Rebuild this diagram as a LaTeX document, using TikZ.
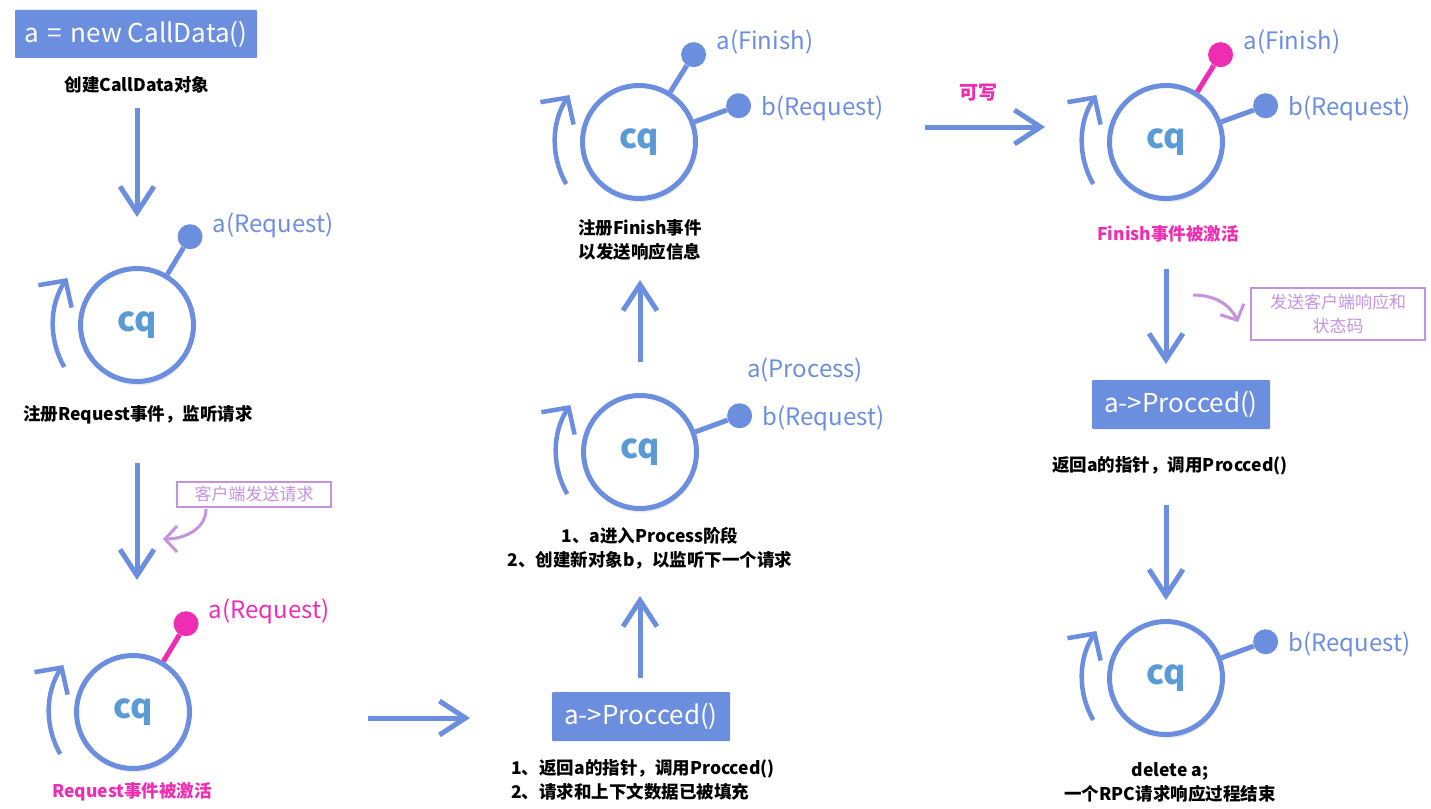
\documentclass[tikz,border=0pt]{standalone}
\usepackage{fontspec}
\setmainfont{Noto Sans CJK SC}
\usepackage{tikz}
\usetikzlibrary{arrows.meta,positioning,shadows}

\definecolor{cqblue}{HTML}{6C8EDF}
\definecolor{cqink}{HTML}{5B9BD5}
\definecolor{hot}{HTML}{EE2DB2}
\definecolor{lilac}{HTML}{C493E0}

\begin{document}
\begin{tikzpicture}[x=1pt, y=1pt,
  ring/.style={circle, draw=cqblue, line width=5pt, fill=white, minimum size=113pt, inner sep=0pt,
    text=cqink, font=\fontsize{34}{40}\selectfont\bfseries,
    drop shadow={shadow xshift=1pt, shadow yshift=-4pt, opacity=0.15}},
  knob/.style={circle, fill=cqblue, minimum size=25pt, inner sep=0pt},
  hotknob/.style={knob, fill=hot},
  stem/.style={draw=cqblue, line width=5pt},
  hotstem/.style={stem, draw=hot},
  tag/.style={text=cqblue, font=\fontsize{24}{28}\selectfont, inner sep=0pt},
  hottag/.style={tag, text=hot},
  flow/.style={draw=cqblue, line width=5pt, -{Straight Barb[length=26pt, width=34pt]}},
  spin/.style={draw=cqblue, line width=4.5pt, -{Straight Barb[length=19pt, width=40pt]}},
  callbox/.style={fill=cqblue, text=white, rounded corners=1pt, font=\fontsize{26}{30}\selectfont, inner sep=0pt},
  caption/.style={font=\fontsize{17.5}{24}\selectfont\bfseries, align=center, inner sep=0pt},
  hotcaption/.style={caption, text=hot},
  remark/.style={draw=lilac, line width=2.5pt, text=lilac, font=\fontsize{17}{24}\selectfont, align=center, inner sep=0pt},
  hint/.style={draw=lilac, line width=3pt, -{Straight Barb[length=12pt, width=26pt]}}
]
  \useasboundingbox (0,0) rectangle (1431,-808);

  % column 1
  \node[callbox, minimum width=242pt, minimum height=48pt] (new) at (136,-34) {a\,\,=\,\,new CallData()};
  \node[caption] (c0) at (137,-85) {创建CallData对象};

  \node[ring] (q1) at (137,-325) {cq};
  \node[knob] (a1) at ([shift={(59:103)}]q1.center) {};
  \draw[stem] (q1.59) -- (a1);
  \node[tag, right=10pt of a1, yshift=11pt] (ta1) {a(Request)};
  \draw[spin] ([shift={(210:84)}]q1.center) arc[start angle=210, end angle=146, radius=84];
  \node[caption] (c1) at (138,-415) {注册Request事件，监听请求};

  \node[remark, minimum width=154pt, minimum height=25pt] (n1) at (254,-494.5) {客户端发送请求};
  \coordinate (h1s) at (206,-509);
  \coordinate (h1) at (163,-539);
  \draw[hint] (h1s) to[out=-90, in=0] (h1);

  \node[ring] (q3) at (133,-712) {cq};
  \node[hotknob] (a3) at ([shift={(59:103)}]q3.center) {};
  \draw[hotstem] (q3.59) -- (a3);
  \node[hottag, right=10pt of a3, yshift=12pt] (ta3) {a(Request)};
  \draw[spin] ([shift={(210:84)}]q3.center) arc[start angle=210, end angle=146, radius=84];
  \node[hotcaption] (c3) at (132,-792) {Request事件被激活};

  % column 2
  \node[callbox, minimum width=178pt, minimum height=49pt] (proc1) at (641,-716.5) {a->Procced()};
  \node[caption, align=left] (c5) at (643,-780) {1、返回a的指针，调用Procced()\\2、请求和上下文数据已被填充};

  \node[caption] (c2) at (650,-548) {1、a进入Process阶段\\2、创建新对象b，以监听下一个请求};
  \node[ring] (q2) at (640,-452) {cq};
  \node[knob] (b2) at ([shift={(20:106)}]q2.center) {};
  \draw[stem] (q2.20) -- (b2);
  \node[tag, right=10pt of b2, yshift=-3pt] (tb2) {b(Request)};
  \node[tag] (ta2) at (805,-370) {a(Process)};
  \draw[spin] ([shift={(210:84)}]q2.center) arc[start angle=210, end angle=146, radius=84];

  \node[ring] (q4) at (639,-142) {cq};
  \node[knob] (a4) at ([shift={(58:103)}]q4.center) {};
  \draw[stem] (q4.58) -- (a4);
  \node[tag, right=10pt of a4, yshift=13pt] (ta4) {a(Finish)};
  \node[knob] (b4) at ([shift={(20:106)}]q4.center) {};
  \draw[stem] (q4.20) -- (b4);
  \node[tag, right=10pt of b4, yshift=-3pt] (tb4) {b(Request)};
  \draw[spin] ([shift={(210:84)}]q4.center) arc[start angle=210, end angle=146, radius=84];
  \node[caption] (c4) at (640,-240) {注册Finish事件\\以发送响应信息};

  % column 3
  \node[hotcaption, font=\fontsize{19}{24}\selectfont\bfseries] (w) at (978,-93) {可写};

  \node[ring] (q5) at (1166,-142) {cq};
  \node[hotknob] (a5) at ([shift={(58:103)}]q5.center) {};
  \draw[hotstem] (q5.58) -- (a5);
  \node[tag, right=10pt of a5, yshift=13pt] (ta5) {a(Finish)};
  \node[knob] (b5) at ([shift={(20:106)}]q5.center) {};
  \draw[stem] (q5.20) -- (b5);
  \node[tag, right=10pt of b5, yshift=-3pt] (tb5) {b(Request)};
  \draw[spin] ([shift={(210:84)}]q5.center) arc[start angle=210, end angle=146, radius=84];
  \node[hotcaption] (c6) at (1168,-234) {Finish事件被激活};

  \node[remark, minimum width=174pt, minimum height=52pt] (n2) at (1338,-314) {发送客户端响应和\\状态码};
  \coordinate (h2s) at (1193,-295);
  \coordinate (h2) at (1238,-322);
  \draw[hint] (h2s) to[out=0, in=115] (h2);

  \node[callbox, minimum width=178pt, minimum height=49pt] (proc2) at (1181,-404.5) {a->Procced()};
  \node[caption] (c7) at (1170,-466) {返回a的指针，调用Procced()};

  \node[ring] (q6) at (1166,-678) {cq};
  \node[knob] (b6) at ([shift={(20:106)}]q6.center) {};
  \draw[stem] (q6.20) -- (b6);
  \node[tag, right=10pt of b6, yshift=-3pt] (tb6) {b(Request)};
  \draw[spin] ([shift={(210:84)}]q6.center) arc[start angle=210, end angle=146, radius=84];
  \node[caption] (c8) at (1170,-782) {delete a;\\一个RPC请求响应过程结束};

  % flow arrows
  \coordinate (f1s) at (137,-108);  \coordinate (f1e) at (137,-217);
  \coordinate (f2s) at (137,-463);  \coordinate (f2e) at (137,-580);
  \coordinate (f3s) at (368,-718);  \coordinate (f3e) at (470,-718);
  \coordinate (f4s) at (640,-678);  \coordinate (f4e) at (640,-596);
  \coordinate (f5s) at (640,-362);  \coordinate (f5e) at (640,-280);
  \coordinate (f6s) at (925,-127);  \coordinate (f6e) at (1045,-127);
  \coordinate (f7s) at (1166,-269); \coordinate (f7e) at (1166,-364);
  \coordinate (f8s) at (1166,-505); \coordinate (f8e) at (1166,-600);
  \draw[flow] (f1s) -- (f1e);
  \draw[flow] (f2s) -- (f2e);
  \draw[flow] (f3s) -- (f3e);
  \draw[flow] (f4s) -- (f4e);
  \draw[flow] (f5s) -- (f5e);
  \draw[flow] (f6s) -- (f6e);
  \draw[flow] (f7s) -- (f7e);
  \draw[flow] (f8s) -- (f8e);
\end{tikzpicture}
\end{document}
